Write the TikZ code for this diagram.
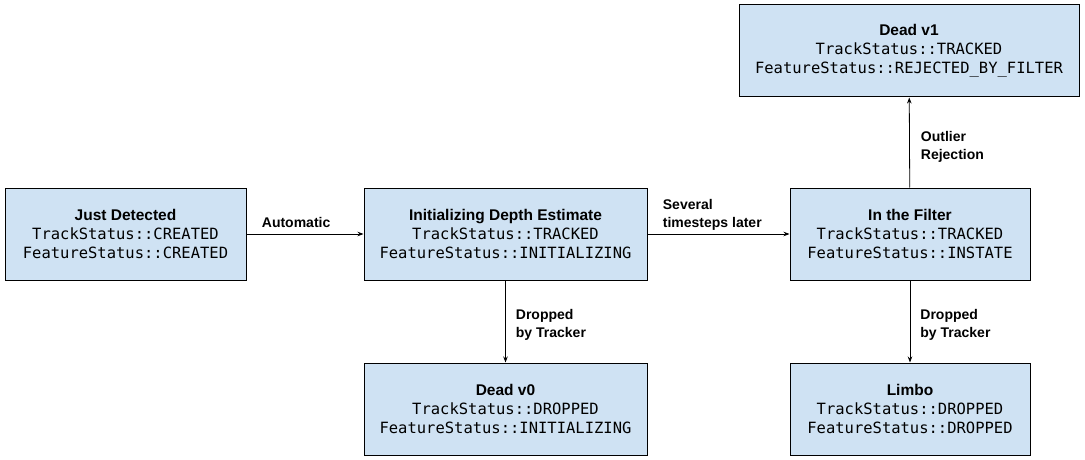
\documentclass[tikz,border=0pt]{standalone}
\usepackage{fontspec}
\setmainfont{Liberation Sans}
\setmonofont{DejaVu Sans Mono}
\usetikzlibrary{arrows.meta}
\definecolor{boxblue}{HTML}{CFE2F3}
\tikzstyle{state} = [rectangle, draw=black, fill=boxblue, line width=1pt, align=center, inner sep=0pt, font=\fontsize{15.5}{19}\selectfont]
\tikzstyle{arrow} = [line width=0.8pt, -{Stealth[length=6pt, width=4.5pt]}]
\tikzstyle{edgelabel} = [font=\bfseries\fontsize{14}{18}\selectfont, align=left, inner sep=0pt]
\newcommand{\statetext}[3]{\textbf{#1}\\\texttt{#2}\\\texttt{#3}}

\begin{document}
\begin{tikzpicture}[x=1pt, y=-1pt]

\useasboundingbox (0,0) rectangle (1085,460);

\node (detected) [state, minimum width=241pt, minimum height=92pt] at (125.5,234) {\statetext{Just Detected}{TrackStatus::CREATED}{FeatureStatus::CREATED}};
\node (init) [state, minimum width=283pt, minimum height=92pt] at (505.5,234) {\statetext{Initializing Depth Estimate}{TrackStatus::TRACKED}{FeatureStatus::INITIALIZING}};
\node (filter) [state, minimum width=240pt, minimum height=92pt] at (910,234) {\statetext{In the Filter}{TrackStatus::TRACKED}{FeatureStatus::INSTATE}};
\node (deadone) [state, minimum width=340pt, minimum height=92pt] at (909,51) {\statetext{Dead v1}{TrackStatus::TRACKED}{FeatureStatus::REJECTED\_BY\_FILTER}};
\node (deadzero) [state, minimum width=283pt, minimum height=92pt] at (505.5,409) {\statetext{Dead v0}{TrackStatus::DROPPED}{FeatureStatus::INITIALIZING}};
\node (limbo) [state, minimum width=240pt, minimum height=92pt] at (910,409) {\statetext{Limbo}{TrackStatus::DROPPED}{FeatureStatus::DROPPED}};

\draw [arrow] (detected) -- node[edgelabel, pos=0, anchor=south west, xshift=15pt, yshift=6pt] {Automatic} (init);
\draw [arrow] (init) -- node[edgelabel, pos=0, anchor=south west, xshift=15pt, yshift=3pt] {Several\\timesteps later} (filter);
\draw [arrow] (init) -- node[edgelabel, anchor=west, xshift=10pt, yshift=-3pt] {Dropped\\by Tracker} (deadzero);
\draw [arrow] (filter) -- node[edgelabel, anchor=west, xshift=10pt, yshift=-3pt] {Dropped\\by Tracker} (limbo);
\draw [arrow] (filter) -- node[edgelabel, anchor=west, xshift=11pt, yshift=-4pt] {Outlier\\Rejection} (deadone);

\end{tikzpicture}
\end{document}
